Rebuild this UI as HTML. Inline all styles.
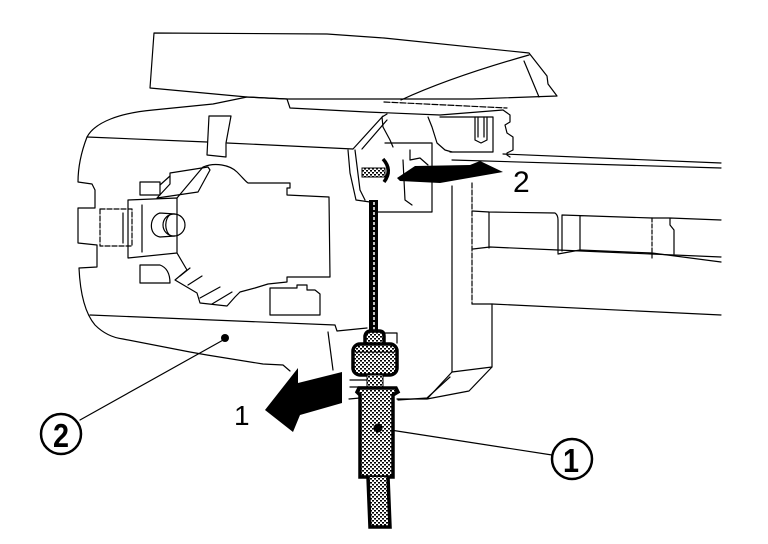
<!DOCTYPE html>
<html><head><meta charset="utf-8"><style>
html,body{margin:0;padding:0;background:#fff;}
svg{display:block;}
text{font-family:"Liberation Sans",sans-serif;fill:#000;}
</style></head><body>
<svg width="768" height="544" viewBox="0 0 768 544" xmlns="http://www.w3.org/2000/svg">
<defs>
<pattern id="dots" width="4" height="4" patternUnits="userSpaceOnUse">
<rect width="4" height="4" fill="#fff"/>
<rect x="0" y="0" width="2" height="1.6" fill="#000"/>
<rect x="2" y="2" width="2" height="1.6" fill="#000"/>
</pattern>
</defs>
<rect width="768" height="544" fill="#fff"/>
<g fill="none" stroke="#000" stroke-width="1.2" stroke-linejoin="round" stroke-linecap="round">
<!-- top trim -->
<path d="M154,33 L327,34 L384,38 L529,53 L547,76 L548,84 L557,96 L472,99 L383,99 L287,99 L247,97 L150,88 Z"/>
<path d="M401,100 C440,82 490,66 529,55"/>
<path d="M524,61 L539,97"/>
<path d="M247,97 L287,99 L290,108 L367,112 L440,115 L503,110"/>
<path d="M384,102 L507,108" stroke-dasharray="6 2"/>
<!-- housing outer -->
<path d="M247,97 L213,104 L153,110 C120,113 95,122 87,137 C82,150 78,165 78,182 L92,184 L95,190 L95,208 L78,208 L78,243 L97,245 L97,267 L79,268 C80,290 84,312 95,325 C105,335 115,338 123,339 L190,352 L207,355 L263,364 L283,365 L290,371"/>
<path d="M87,137 L207,142 M227,143 L353,149"/>
<path d="M209,116 L231,116 L226,143 L226,157 L207,155 Z"/>
<path d="M353,149 L383,116 M362,149 L387,120"/>
<path d="M90,315 L335,325 L337,331 L367,328"/>
<path d="M328,332 L333,370"/>
<!-- lock area -->
<path d="M348,150 L350,173 L356,200 L370,202"/>
<path d="M355,150 L360,190 L365,200"/>
<path d="M387,114 L382,117 L383,127 L390,140 L393,147"/>
<path d="M385,143 L432,143 L432,212 L378,212"/>
<path d="M403,160 L405,200 L412,205"/>
<path d="M410,150 L410,160 L420,158 L428,165"/>
<path d="M428,117 L432,127 L437,143 L445,150 L452,152"/>
<path d="M440,117 L493,117 L493,152 L450,152"/>
<path d="M475,117 L475,140 L481,143 L487,140 L487,117 M478,117 L478,137 M484,117 L484,137"/>
<path d="M503,110 L510,115 L510,122 L505,125 L507,133 L513,137 L513,150 L507,153 L507,155 L510,157"/>
<path d="M503,154 L721,163"/>
<path d="M452,160 L721,168"/>
<!-- right block -->
<path d="M452,186 L452,372"/>
<path d="M472,183 L472,304" stroke-dasharray="5 2"/>
<path d="M472,211 L489,212 L555,213 Q558,215 558,220 L558,253"/>
<path d="M489,212 L489,248"/>
<path d="M562,215 L652,218 M562,215 L562,251 M580,216 L580,250"/>
<path d="M652,218 L652,258" stroke-dasharray="4 2"/>
<path d="M652,218 L670,218 L670,225 L674,230 L674,254 M670,218 L721,220"/>
<path d="M473,249 L490,247 L558,250 L721,257"/>
<path d="M558,254 L580,250 L652,253 L721,262"/>
<path d="M472,304 L492,304 L721,315"/>
<path d="M452,372 L492,367 L492,304"/>
<path d="M452,372 L427,399 M492,367 L469,391 L427,399 L397,399"/>
<!-- inner cavity left -->
<rect x="100" y="209" width="32" height="37" stroke-dasharray="5 2"/>
<path d="M123,213 L123,243"/>
<path d="M128,200 L177,198 L177,253 L128,258 Z"/>
<path d="M142,205 L142,252"/>
<path d="M160,213 C149,216 148,235 160,237 L175,236 M160,213 L175,214"/>
<circle cx="174" cy="225" r="11"/>
<path d="M171,214 C164,218 164,232 171,236"/>
<rect x="140" y="182" width="20" height="13"/>
<path d="M157,198 L170,184 L170,173 L208,167 L210,170 L198,192 Z"/>
<path d="M160,185 L170,176"/>
<path d="M177,198 L203,167 C215,162 230,165 237,172 C243,178 246,182 248,183 L290,183 L290,188 L287,188 L287,195 L329,197 L330,277 L287,277 L287,282 L268,284 L255,288 L240,292 L235,297 L227,306 L200,303 L197,293 L175,280 L187,270 L177,253"/>
<path d="M180,276 L190,268 M188,285 L202,276 M200,298 L220,287 M212,304 L232,292"/>
<path d="M270,288 L270,315 L320,315 L320,294 L315,290 L307,290 L307,285 L297,285 L297,288 Z"/>
<path d="M140,265 L160,265 C168,268 170,275 170,283 L140,283 Z"/>
<!-- leaders -->
<path d="M80,420 L225,339"/>
<path d="M384,429 L552,455"/>
<!-- fitting thin parts -->
<path d="M385,333 L397,333 L397,343"/>
<path d="M350,380 L367,380 M350,387 L367,387 M349,399 L360,398 M398,400 L427,398 L450,377"/>
</g>
<!-- cable -->
<rect x="369" y="200" width="9" height="132" fill="#000"/>
<line x1="374" y1="202" x2="374" y2="330" stroke="#fff" stroke-width="1.5" stroke-dasharray="3 2"/>
<!-- dotted rect & bracket near top -->
<rect x="362" y="168" width="23" height="9" fill="url(#dots)" stroke="#000" stroke-width="1"/>
<path d="M383,159 Q393,170 384,182" fill="none" stroke="#000" stroke-width="3.5"/>
<!-- fitting -->
<g stroke="#000" fill="url(#dots)">
<path d="M365,344 L365,336 Q366,331 371,331 L379,331 Q384,331 384,336 L384,344" stroke-width="3.5"/>
<rect x="353" y="344" width="44" height="31" rx="7" stroke-width="3.5"/>
<rect x="367" y="375" width="16" height="13" stroke-width="1"/>
<path d="M357,392 L359,388 L396,388 L398,392 L393,395 L393,477 L360,477 L360,395 Z" stroke-width="3.5"/>
<path d="M368,477 L370,527 L390,527 L388,477" stroke-width="3.5"/>
</g>
<line x1="355" y1="352" x2="395" y2="352" stroke="#000" stroke-width="1"/>
<circle cx="378" cy="428" r="4.5" fill="#000"/>
<circle cx="225" cy="338" r="4" fill="#000"/>
<!-- arrows -->
<polygon points="265,410 298,368 298,383 342,372 342,403 300,415 293,432" fill="#000"/>
<polygon points="397,178 415,166 470,165 480,161 503,172 440,183 400,181" fill="#000"/>
<!-- labels -->
<text x="234" y="425" font-size="28">1</text>
<text x="513" y="192" font-size="30">2</text>
<circle cx="61" cy="434" r="20" fill="none" stroke="#000" stroke-width="2.5"/>
<text x="53" y="447" font-size="33" font-weight="bold" textLength="16" lengthAdjust="spacingAndGlyphs">2</text>
<circle cx="572" cy="459" r="20" fill="none" stroke="#000" stroke-width="2.5"/>
<text x="563" y="472" font-size="33" font-weight="bold" textLength="16" lengthAdjust="spacingAndGlyphs">1</text>
</svg>
</body></html>
